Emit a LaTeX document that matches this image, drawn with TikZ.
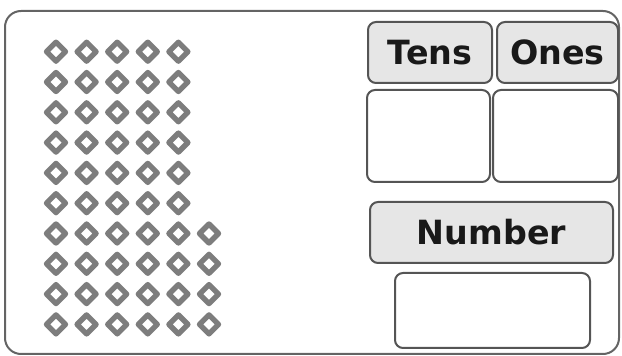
\documentclass[tikz,border=0pt]{standalone}
\usepackage{fontspec}
\setmainfont{DejaVu Sans}
\usepackage{tikz}

\tikzset{
  headbox/.style={draw={rgb,255:red,85;green,85;blue,85}, line width=1.5, rounded corners=6,
    fill={rgb,255:red,230;green,230;blue,230}, inner sep=0pt, outer sep=0pt,
    font=\fontsize{25}{27}\selectfont\bfseries, text={rgb,255:red,25;green,25;blue,25}},
  valuebox/.style={draw={rgb,255:red,85;green,85;blue,85}, line width=1.5, rounded corners=6,
    fill=white, inner sep=0pt, outer sep=0pt},
  bead/.style={draw={rgb,255:red,125;green,125;blue,125}, line width=4, line join=round}
}

\begin{document}
\begin{tikzpicture}[x=0.75pt,y=0.75pt,yscale=-1,xscale=1]
\useasboundingbox (0,0) rectangle (622,356);

%Shape: Rounded Rectangle (frame)
\draw [color={rgb, 255:red, 100; green, 100; blue, 100}, line width=1.5, rounded corners=12] (5,11) -- (619,11) -- (619,354) -- (5,354) -- cycle ;

%Shape: Diamonds
\foreach \r in {0,...,9}{
  \pgfmathtruncatemacro{\ncol}{\r<6 ? 4 : 5}
  \foreach \c in {0,...,\ncol}{
    \draw [bead] ({56+30.6*\c},{51.7+30.3*\r}) +(0,-9.5) -- +(9.5,0) -- +(0,9.5) -- +(-9.5,0) -- cycle ;
  }
}

% Header Nodes
\node (tens) [headbox, minimum width=93pt, minimum height=45.75pt] at (430,52.5) {Tens};
\node (ones) [headbox, minimum width=90.75pt, minimum height=45.75pt] at (557.5,52.5) {Ones};
\node (number) [headbox, minimum width=182.25pt, minimum height=45.75pt] at (491.5,232.5) {Number};

% Value Nodes
\node (tensval) [valuebox, minimum width=92.25pt, minimum height=69pt] at (428.5,136) {};
\node (onesval) [valuebox, minimum width=93.75pt, minimum height=69pt] at (555.5,136) {};
\node (numberval) [valuebox, minimum width=146.25pt, minimum height=56.25pt] at (492.5,310.5) {};
\end{tikzpicture}
\end{document}
